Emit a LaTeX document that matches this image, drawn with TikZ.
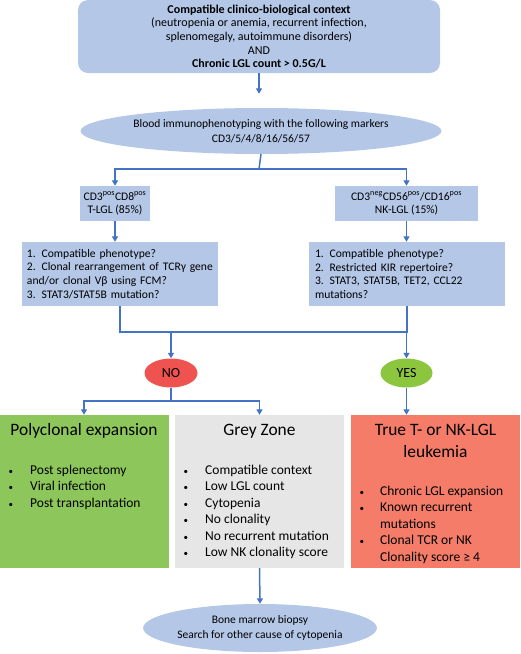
\documentclass[tikz,border=0pt]{standalone}
\usepackage{fontspec}
\setmainfont{Carlito}
\usepackage{tikz}
\usetikzlibrary{positioning}
\usetikzlibrary{arrows.meta,shapes.geometric}
\usepackage{color}
\definecolor{boxblue}{HTML}{B4C7E7}
\definecolor{lineblue}{HTML}{4472C4}
\definecolor{nored}{HTML}{EF5350}
\definecolor{yesgreen}{HTML}{8CC63F}
\definecolor{polygreen}{HTML}{8DC65A}
\definecolor{zonegrey}{HTML}{E7E6E6}
\definecolor{leukred}{HTML}{F47C68}
\newcommand{\bdot}{{\fontsize{9}{9}\selectfont•}}

\tikzset{
 bluebox/.style={fill=boxblue,inner sep=0pt,font=\fontsize{11.6}{13.7}\selectfont},
 blueoval/.style={ellipse,fill=boxblue,inner sep=0pt,align=center,font=\fontsize{11.5}{14.5}\selectfont},
 answer/.style={ellipse,inner sep=0pt,minimum width=53pt,minimum height=29pt,font=\fontsize{14}{15}\selectfont},
 outcome/.style={inner sep=0pt,minimum width=169pt,minimum height=153pt},
 heading/.style={inner sep=0pt,align=center,font=\fontsize{17.4}{21.5}\selectfont},
 bullets/.style={inner sep=0pt,anchor=north west,font=\fontsize{13.5}{16.5}\selectfont},
 link/.style={draw=lineblue,line width=1.5pt},
 arr/.style={link,-{Triangle[length=5.5pt,width=6pt]}}
}

\begin{document}
\begin{tikzpicture}[x=1pt,y=-1pt]
 \useasboundingbox (0,0) rectangle (520,654);
 % context and immunophenotyping
 \node[bluebox,rounded corners=10pt,minimum width=362pt,minimum height=73pt,align=center,font=\fontsize{12}{13.7}\selectfont] (ctx) at (259,36.5)
  {\textbf{Compatible clinico-biological context}\\(neutropenia or anemia, recurrent infection,\\splenomegaly, autoimmune disorders)\\AND\\\textbf{Chronic LGL count > 0.5G/L}};
 \node[blueoval,minimum width=272pt,minimum height=46pt] (immuno) at (261,131)
  {Blood immunophenotyping with the following markers\\CD3/5/4/8/16/56/57};
 \draw[arr,shorten >=14pt] (ctx) -- (ctx.south |- immuno.north);
 % T and NK branches
 \node[bluebox,minimum width=70pt,minimum height=35pt,align=center] (tcell) at (115,203.5)
  {CD3\textsuperscript{pos}CD8\textsuperscript{pos}\\T-LGL (85\%)};
 \node[bluebox,minimum width=143pt,minimum height=35pt,align=center] (nkcell) at (406.5,203.5)
  {CD3\textsuperscript{neg}CD56\textsuperscript{pos}/CD16\textsuperscript{pos}\\NK-LGL (15\%)};
 \node[bluebox,minimum width=196pt,minimum height=64pt,text width=186pt,align=left] (tcheck) at (120,274)
  {1. Compatible phenotype?\\2. Clonal rearrangement of TCRγ gene\\and/or clonal Vβ using FCM?\\3. STAT3/STAT5B mutation?};
 \node[bluebox,minimum width=196pt,minimum height=64pt,text width=184pt,align=left] (nkcheck) at (407,274)
  {1. Compatible phenotype?\\2. Restricted KIR repertoire?\\3. STAT3, STAT5B, TET2, CCL22\\mutations?};
 \coordinate (split) at (259,169);
 \draw[link] (immuno.south) -- (split);
 \draw[arr] (split) -| (tcell.north);
 \draw[arr] (split) -| (nkcell.north);
 \draw[arr] (tcell.south) -- (tcell.south |- tcheck.north);
 \draw[arr] (nkcell.south) -- (nkcell.south |- nkcheck.north);
 % answers
 \node[answer,fill=nored] (no) at (171,373) {NO};
 \node[answer,fill=yesgreen,minimum width=52pt] (yes) at (406.5,373) {YES};
 \coordinate (join) at (120,332);
 \draw[link] (tcheck.south) -- (join) -| (nkcheck.south);
 \draw[arr] (no.north |- join) -- (no);
 \draw[arr] (yes.north |- join) -- (yes);
 % outcomes
 \node[outcome,fill=polygreen] (poly) at (84,491.5) {};
 \node[outcome,fill=zonegrey] (grey) at (259.5,491.5) {};
 \node[outcome,fill=leukred] (leuk) at (435.5,491.5) {};
 \coordinate (nosplit) at (171,401);
 \draw[link] (no.south) -- (nosplit);
 \draw[arr] (nosplit) -| (poly.north);
 \draw[arr] (nosplit) -| (grey.north);
 \draw[arr] (yes.south) -- (yes.south |- leuk.north);
 \node[heading] (polytitle) at (84,431) {Polyclonal expansion};
 \node[heading] (greytitle) at (259.5,431) {Grey Zone};
 \node[heading] (leuktitle) at (435.5,441) {True T- or NK-LGL\\leukemia};
 \node[bullets] (polylist) at (8.5,462.5) {\begin{tabular}{@{}p{21.5pt}@{}l@{}}
  \bdot&Post splenectomy\\ \bdot&Viral infection\\ \bdot&Post transplantation\end{tabular}};
 \node[bullets] (greylist) at (183.5,462.5) {\begin{tabular}{@{}p{21.5pt}@{}l@{}}
  \bdot&Compatible context\\ \bdot&Low LGL count\\ \bdot&Cytopenia\\ \bdot&No clonality\\
  \bdot&No recurrent mutation\\ \bdot&Low NK clonality score\end{tabular}};
 \node[bullets] (leuklist) at (359.5,483.5) {\begin{tabular}{@{}p{20.5pt}@{}l@{}}
  \bdot&Chronic LGL expansion\\ \bdot&Known recurrent\\ &mutations\\
  \bdot&Clonal TCR or NK\\ &Clonality score ≥ 4\end{tabular}};
 % last step
 \node[blueoval,minimum width=186pt,minimum height=48pt] (biopsy) at (260,628)
  {Bone marrow biopsy\\Search for other cause of cytopenia};
 \draw[arr] (grey.south) -- (biopsy.north);
\end{tikzpicture}
\end{document}
